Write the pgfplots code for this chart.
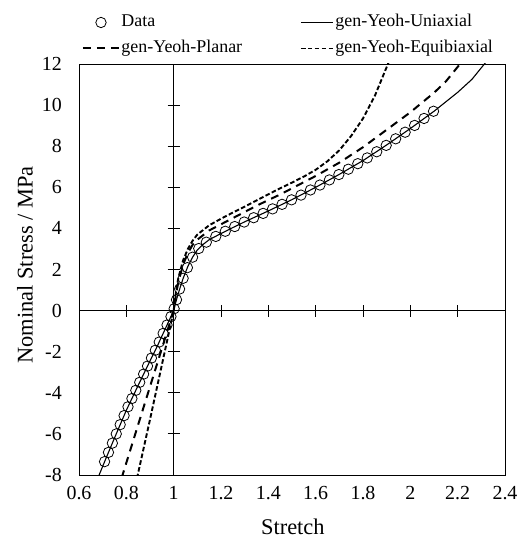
\documentclass[border=0pt]{standalone}
\usepackage{pgfplots}
\pgfplotsset{compat=1.18}
\usepackage{fontspec}
\setmainfont{Liberation Serif}

\pgfplotsset{
  legmark/.style={legend image code/.code={\draw[mark repeat=2,mark phase=2,##1] plot coordinates {(0bp,0bp) (18bp,0bp) (36bp,0bp)};}},
  leglong/.style={legend image code/.code={\draw[##1] (0bp,0bp) -- (36bp,0bp);}},
  legshort/.style={legend image code/.code={\draw[##1] (0bp,0bp) -- (32bp,0bp);}},
}

\pgfplotstableread{
x y
0.708 -7.35
0.7245 -6.90
0.741 -6.45
0.7575 -6.00
0.774 -5.55
0.7905 -5.11
0.807 -4.68
0.8235 -4.28
0.840 -3.88
0.8565 -3.49
0.873 -3.09
0.8895 -2.70
0.906 -2.31
0.9225 -1.93
0.939 -1.53
0.9555 -1.11
0.972 -0.70
0.9885 -0.29
1.002 0.09
1.012 0.53
1.025 1.05
1.040 1.57
1.058 2.09
1.080 2.60
1.106 3.02
1.138 3.33
1.178 3.61
1.218 3.86
1.258 4.09
1.298 4.31
1.338 4.52
1.378 4.73
1.418 4.95
1.458 5.17
1.498 5.39
1.538 5.62
1.578 5.87
1.618 6.11
1.658 6.36
1.698 6.62
1.738 6.88
1.778 7.15
1.818 7.43
1.858 7.73
1.898 8.04
1.938 8.36
1.978 8.68
2.018 9.01
2.058 9.35
2.098 9.70
}\datatab

\pgfplotstableread{
x y
0.68 -8.14
0.71 -7.30
0.75 -6.20
0.80 -4.85
0.85 -3.64
0.90 -2.45
0.93 -1.75
0.96 -1.00
0.98 -0.50
1.00 0.00
1.01 0.45
1.02 0.85
1.03 1.22
1.04 1.57
1.06 2.15
1.08 2.60
1.10 2.95
1.12 3.18
1.15 3.45
1.20 3.75
1.25 4.04
1.30 4.32
1.40 4.85
1.50 5.40
1.60 6.00
1.70 6.63
1.80 7.30
1.90 8.06
2.00 8.86
2.10 9.70
2.20 10.62
2.26 11.25
2.32 12.10
}\unitab

\pgfplotstableread{
x y
0.78 -8.15
0.85 -5.55
0.90 -3.70
0.95 -1.85
0.98 -0.74
1.00 0.00
1.01 0.80
1.02 1.40
1.04 2.25
1.06 2.80
1.08 3.20
1.10 3.45
1.15 3.90
1.20 4.20
1.25 4.50
1.30 4.80
1.35 5.10
1.40 5.38
1.45 5.65
1.50 5.95
1.60 6.55
1.70 7.20
1.80 7.95
1.90 8.80
2.00 9.65
2.10 10.60
2.15 11.15
2.21 12.00
2.23 12.30
}\platab

\pgfplotstableread{
x y
0.845 -8.16
0.90 -5.30
0.95 -2.65
1.00 0.00
1.01 0.95
1.02 1.60
1.04 2.45
1.06 3.00
1.08 3.40
1.10 3.70
1.15 4.15
1.20 4.47
1.25 4.77
1.30 5.06
1.35 5.36
1.40 5.66
1.45 5.95
1.50 6.23
1.55 6.52
1.60 6.85
1.65 7.27
1.70 7.80
1.75 8.50
1.80 9.35
1.85 10.45
1.90 11.85
1.92 12.40
}\equitab

\begin{document}
\begin{tikzpicture}
\path[use as bounding box] (-79bp,-68bp) rectangle (445bp,475bp);
\begin{axis}[
  at={(0,0)}, anchor=south west,
  width=426bp, height=411bp, scale only axis,
  xmin=0.6, xmax=2.4, ymin=-8, ymax=12,
  xtick={0.6,0.8,1,1.2,1.4,1.6,1.8,2,2.2,2.4},
  xticklabels={0.6,0.8,1,1.2,1.4,1.6,1.8,2,2.2,2.4},
  ytick={-8,-6,-4,-2,0,2,4,6,8,10,12},
  yticklabels={-8,-6,-4,-2,0,2,4,6,8,10,12},
  xtick style={draw=none}, ytick style={draw=none},
  axis line style={black, line width=0.9bp},
  tick label style={font=\fontsize{20}{22}\selectfont},
  xticklabel style={anchor=north, inner sep=0pt, yshift=-11bp},
  yticklabel style={anchor=east, inner sep=0pt, xshift=-17bp},
  xlabel={Stretch},
  label style={font=\fontsize{22.5}{26}\selectfont},
  xlabel style={at={(axis description cs:0.502,0)}, anchor=north, inner sep=0pt, yshift=-44bp},
  legend columns=2,
  legend cell align=left,
  legend style={at={(axis description cs:0.00704,1.1247)}, anchor=north west,
    draw=none, fill=none, inner sep=0pt, outer sep=0pt,
    font=\fontsize{18}{20}\selectfont,
    nodes={inner sep=1.5bp, text height=12.5bp, text depth=4bp, text width=177bp, align=left},
    row sep=6.5bp,
    /tikz/every odd column/.append style={column sep=0bp},
    /tikz/every even column/.append style={column sep=0bp}},
]
\addplot[only marks, mark=o, mark size=5.2bp, mark options={line width=0.8bp, black}, black, legmark]
  table {\datatab};
\addlegendentry{Data}
\addplot[black, line width=1.1bp, legshort]
  table {\unitab};
\addlegendentry{gen-Yeoh-Uniaxial}
\addplot[black, line width=2bp, dash pattern=on 8bp off 6bp, leglong]
  table {\platab};
\addlegendentry{gen-Yeoh-Planar}
\addplot[black, line width=1.9bp, dash pattern=on 4.6bp off 2.3bp, legshort]
  table {\equitab};
\addlegendentry{gen-Yeoh-Equibiaxial}
\end{axis}
\begin{axis}[
  at={(0,0)}, anchor=south west,
  width=426bp, height=411bp, scale only axis,
  xmin=-0.4, xmax=1.4, ymin=-8, ymax=12,
  axis lines=middle,
  axis line style={-, black, line width=0.9bp},
  every inner x axis line/.append style={-},
  every inner y axis line/.append style={-},
  xtick={-0.2,0.2,0.4,0.6,0.8,1.0,1.2},
  ytick={-6,-4,-2,2,4,6,8,10},
  xticklabels={}, yticklabels={},
  tick align=center, major tick length=12bp,
  tick style={black, line width=0.9bp},
]
\end{axis}
\node[rotate=90, anchor=south, inner sep=0pt, font=\fontsize{22.5}{26}\selectfont] at (-46bp,210bp) {Nominal Stress / MPa};
\end{tikzpicture}
\end{document}
